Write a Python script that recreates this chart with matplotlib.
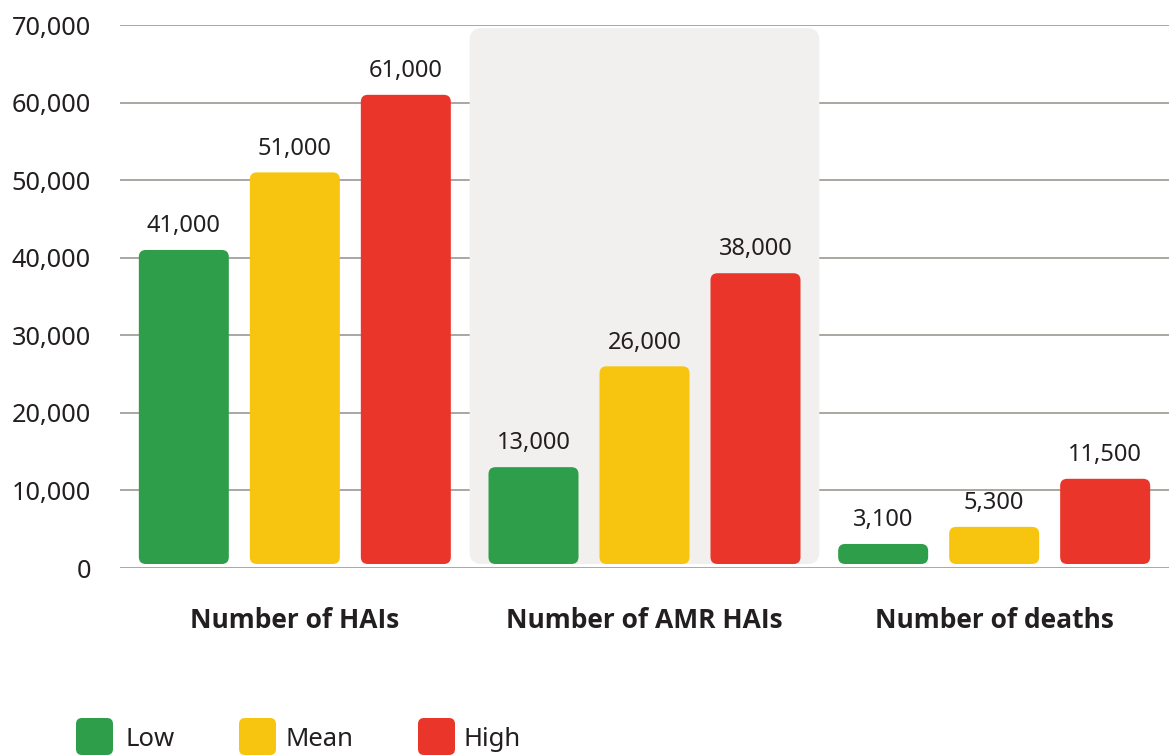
import matplotlib
matplotlib.use("Agg")
import matplotlib.pyplot as plt
from matplotlib.patches import FancyBboxPatch
from matplotlib.ticker import FuncFormatter
import numpy as np

categories = ["Number of HAIs", "Number of AMR HAIs", "Number of deaths"]
series_names = ["Low", "Mean", "High"]
low = [41000, 13000, 3100]
mean = [51000, 26000, 5300]
high = [61000, 38000, 11500]
label_low = ["41,000", "13,000", "3,100"]
label_mean = ["51,000", "26,000", "5,300"]
label_high = ["61,000", "38,000", "11,500"]
yticks = [0, 10000, 20000, 30000, 40000, 50000, 60000, 70000]

colors = ["#2e9e4a", "#f7c510", "#e9352a"]
text_color = "#231f20"
grid_color = "#aaa7a3"
bg_color = "#f1f0ee"

plt.rcParams['font.family'] = ['Noto Sans', 'DejaVu Sans']

W, H = 1169, 756
fig = plt.figure(figsize=(W / 100, H / 100), dpi=100)
ax_left, ax_right, ax_top, ax_bottom = 120, 1169, 25, 568
ax = fig.add_axes([ax_left / W, (H - ax_bottom) / H, (ax_right - ax_left) / W, (ax_bottom - ax_top) / H])
ax.set_xlim(-0.5, 2.5)
ax.set_ylim(0, 70000)

px_x = 3.0 / (ax_right - ax_left)
px_y = 70000.0 / (ax_bottom - ax_top)

for yv in yticks:
    ax.axhline(yv, color=grid_color, lw=1.4, zorder=0)

for s in ax.spines.values():
    s.set_visible(False)
ax.tick_params(axis='both', length=0)
ax.set_yticks(yticks)
ax.yaxis.set_major_formatter(FuncFormatter(lambda v, p: f"{int(v):,}"))
ax.tick_params(axis='y', labelsize=18.2, labelcolor=text_color, pad=21)
ax.set_xticks([])

bottom_gap = 4 * px_y

def rounded_rect(x0, y0, w, h, color, z, r_px=8):
    rs = r_px * px_x
    p = FancyBboxPatch((x0, y0), w, h,
                       boxstyle=f"round,pad=0,rounding_size={rs}",
                       mutation_aspect=px_y / px_x,
                       facecolor=color, edgecolor='none', zorder=z)
    ax.add_patch(p)

rounded_rect(0.5, bottom_gap, 1.0, 69600 - bottom_gap, bg_color, 1, r_px=12)

x = np.arange(len(categories))
step = 111 * px_x
bw = 90 * px_x
all_series = [low, mean, high]
all_labels = [label_low, label_mean, label_high]
for i, (vals, labs) in enumerate(zip(all_series, all_labels)):
    for j, (v, lab) in enumerate(zip(vals, labs)):
        cx = x[j] + (i - 1) * step
        rounded_rect(cx - bw / 2, bottom_gap, bw, v - bottom_gap, colors[i], 3, r_px=7)
        ax.annotate(lab, (cx, v), xytext=(0, 8.5), textcoords='offset points',
                    ha='center', va='bottom', fontsize=17, color=text_color, zorder=4)

for j, cat in enumerate(categories):
    ax.annotate(cat, (x[j], 0), xytext=(0, -52 * 0.72), textcoords='offset points',
                ha='center', va='center', fontsize=19, fontweight='bold', color=text_color,
                family=['Open Sans', 'Noto Sans', 'DejaVu Sans'],
                annotation_clip=False)

leg_sq = [76, 239, 418]
leg_tx = [125, 285, 463]
for i, name in enumerate(series_names):
    p = FancyBboxPatch((leg_sq[i], 1), 37, 37,
                       boxstyle="round,pad=0,rounding_size=6",
                       transform=None, facecolor=colors[i], edgecolor='none')
    fig.patches.append(p)
    fig.text(leg_tx[i] / W, (H - 740) / H, name, fontsize=18.5, color=text_color,
             ha='left', va='center')

fig.savefig("out.png", dpi=100)
